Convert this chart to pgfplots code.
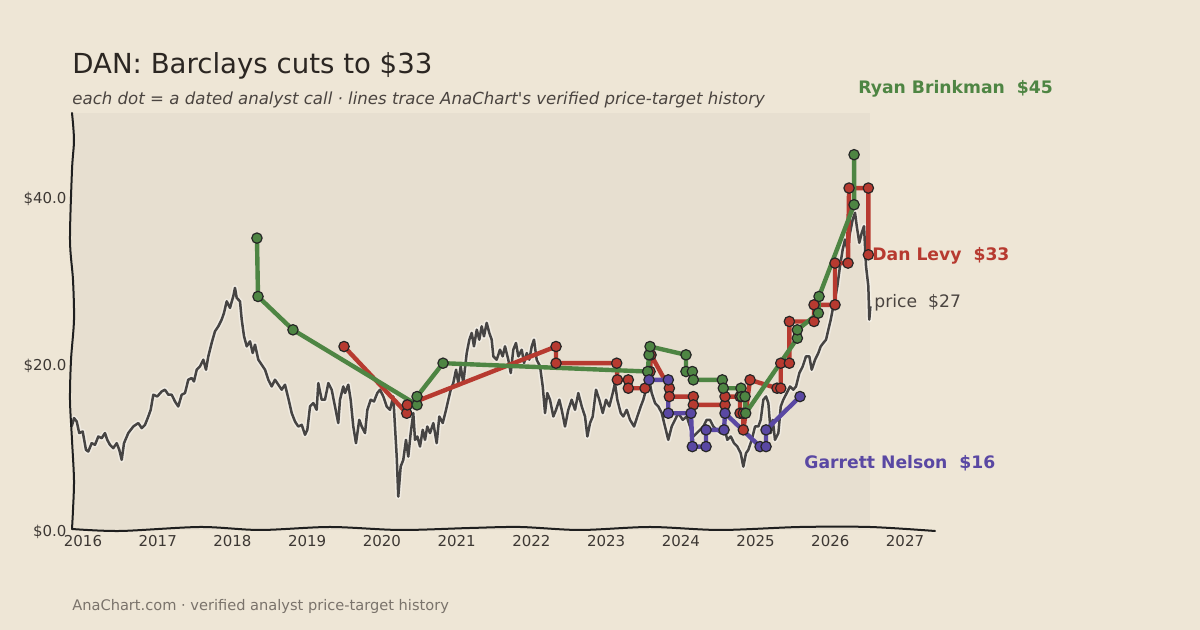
\documentclass[border=0pt]{standalone}
\usepackage{fontspec}
\setmainfont{DejaVu Sans}
\newfontfamily\plainfont{DejaVu Sans}
\usepackage{pgfplots}
\usepackage{pgfplotstable}
\pgfplotsset{compat=1.18}
\definecolor{bg}{HTML}{EEE6D6}
\definecolor{panel}{HTML}{E7DFD0}
\definecolor{pricec}{HTML}{464443}
\definecolor{greenc}{HTML}{4E8543}
\definecolor{redc}{HTML}{B73A30}
\definecolor{purplec}{HTML}{5A48A3}
\definecolor{txt}{HTML}{2B2622}
\definecolor{sub}{HTML}{4A4440}
\definecolor{foot}{HTML}{7A736B}
\definecolor{tick}{HTML}{3D3834}

\pgfplotstableread{
x y
2015.849 12.41
2015.880 13.42
2015.916 13.01
2015.950 11.62
2015.996 11.81
2016.040 9.61
2016.071 9.41
2016.116 10.41
2016.161 10.21
2016.205 11.21
2016.250 11.01
2016.294 11.62
2016.325 10.81
2016.361 10.21
2016.405 9.81
2016.451 10.41
2016.486 9.61
2016.518 8.41
2016.549 10.41
2016.606 11.62
2016.673 12.41
2016.740 12.82
2016.786 12.22
2016.830 12.61
2016.874 13.61
2016.906 14.41
2016.941 16.22
2016.994 16.01
2017.053 16.61
2017.097 16.82
2017.142 16.22
2017.187 16.22
2017.231 15.41
2017.275 14.81
2017.321 16.22
2017.365 16.42
2017.409 18.02
2017.455 18.22
2017.485 17.81
2017.522 19.22
2017.566 19.62
2017.610 20.42
2017.646 19.22
2017.677 20.82
2017.722 22.43
2017.766 23.82
2017.811 24.42
2017.856 25.23
2017.887 26.03
2017.923 27.42
2017.967 26.63
2018.011 28.02
2018.034 29.03
2018.057 27.83
2018.101 27.42
2018.124 25.23
2018.155 23.22
2018.191 22.02
2018.235 22.62
2018.271 21.22
2018.302 22.22
2018.346 20.42
2018.391 19.82
2018.436 19.22
2018.480 18.02
2018.525 17.21
2018.569 18.02
2018.614 17.42
2018.659 16.82
2018.703 17.42
2018.747 15.82
2018.793 14.02
2018.837 13.01
2018.881 12.41
2018.927 12.61
2018.971 11.41
2019.002 12.01
2019.038 14.81
2019.082 15.22
2019.127 14.41
2019.149 17.62
2019.194 15.62
2019.238 15.62
2019.283 17.62
2019.328 16.82
2019.372 14.81
2019.416 12.82
2019.439 15.62
2019.483 17.21
2019.506 16.42
2019.550 17.42
2019.582 15.62
2019.617 12.41
2019.653 10.41
2019.697 13.21
2019.730 12.41
2019.774 11.62
2019.805 14.41
2019.850 15.62
2019.894 15.41
2019.938 16.42
2019.974 16.82
2020.019 16.01
2020.064 14.81
2020.108 14.41
2020.152 16.01
2020.175 12.41
2020.198 8.80
2020.219 4.00
2020.251 7.60
2020.286 8.41
2020.322 10.81
2020.353 8.80
2020.385 11.62
2020.420 14.02
2020.443 10.81
2020.474 11.21
2020.510 10.01
2020.546 12.01
2020.577 10.81
2020.607 12.41
2020.644 11.62
2020.688 12.82
2020.733 10.41
2020.768 13.61
2020.814 12.82
2020.858 14.41
2020.889 15.62
2020.921 16.82
2020.955 17.62
2020.992 19.22
2021.022 17.62
2021.054 19.62
2021.089 17.62
2021.135 21.22
2021.170 22.82
2021.202 23.63
2021.232 22.02
2021.269 24.02
2021.303 22.82
2021.335 24.42
2021.366 23.22
2021.402 24.83
2021.437 23.63
2021.469 22.82
2021.491 20.82
2021.536 20.42
2021.580 21.62
2021.616 20.82
2021.647 22.02
2021.691 20.42
2021.724 18.82
2021.758 21.62
2021.794 22.43
2021.825 20.82
2021.871 21.62
2021.902 20.02
2021.938 21.22
2021.972 20.42
2022.005 22.02
2022.035 22.82
2022.071 20.42
2022.116 19.62
2022.152 17.21
2022.183 14.02
2022.213 16.42
2022.249 15.62
2022.294 13.61
2022.330 14.41
2022.374 15.62
2022.406 14.41
2022.450 12.41
2022.494 14.41
2022.540 15.62
2022.584 14.41
2022.628 16.42
2022.674 14.81
2022.718 13.61
2022.749 11.21
2022.785 12.82
2022.821 13.61
2022.865 16.82
2022.909 15.62
2022.955 14.02
2022.999 15.62
2023.043 14.81
2023.089 16.42
2023.119 17.62
2023.150 15.62
2023.196 14.02
2023.230 13.61
2023.276 14.41
2023.320 13.21
2023.374 12.41
2023.418 13.61
2023.463 14.81
2023.498 15.62
2023.534 16.82
2023.578 18.02
2023.610 16.42
2023.655 15.22
2023.699 14.81
2023.744 14.02
2023.788 12.41
2023.832 10.81
2023.878 12.41
2023.922 13.21
2023.966 14.02
2024.025 13.21
2024.079 13.61
2024.123 12.41
2024.167 11.21
2024.213 11.62
2024.257 12.01
2024.301 12.41
2024.346 13.21
2024.390 13.21
2024.435 12.41
2024.480 12.01
2024.534 11.62
2024.578 12.41
2024.622 10.81
2024.668 11.21
2024.712 10.41
2024.756 10.01
2024.801 9.21
2024.836 7.60
2024.872 9.21
2024.903 9.61
2024.949 10.81
2024.993 12.41
2025.037 12.41
2025.069 13.21
2025.104 15.62
2025.140 16.01
2025.171 15.22
2025.203 11.62
2025.230 13.21
2025.260 10.81
2025.305 11.62
2025.337 14.81
2025.371 15.62
2025.417 16.42
2025.461 17.21
2025.505 16.82
2025.541 17.21
2025.586 18.82
2025.631 19.62
2025.675 20.82
2025.719 20.82
2025.751 19.22
2025.796 20.42
2025.840 21.22
2025.872 22.02
2025.907 22.43
2025.943 22.82
2025.974 24.02
2026.006 25.23
2026.032 26.43
2026.063 27.63
2026.094 29.23
2026.130 31.63
2026.166 33.63
2026.197 34.83
2026.228 33.63
2026.264 35.64
2026.300 37.24
2026.331 38.04
2026.354 36.43
2026.388 34.44
2026.421 35.64
2026.451 36.43
2026.478 31.63
2026.509 29.23
2026.522 25.23
2026.536 26.82
}\pricetable

\pgfplotstableread{
x y
2019.493 22
2020.332 14
2020.340 15
2022.330 22
2022.330 20
2023.142 20
2023.150 18
2023.297 18
2023.297 17
2023.521 17
2023.588 19
2023.601 21
2023.846 17
2023.846 16
2024.167 16
2024.167 15
2024.591 15
2024.591 16
2024.792 16
2024.792 14
2024.836 14
2024.836 12
2024.926 18
2025.287 17
2025.337 17
2025.337 20
2025.452 20
2025.452 25
2025.782 25
2025.782 27
2026.063 27
2026.063 32
2026.237 32
2026.251 41
2026.509 41
2026.509 33
}\redtable

\pgfplotstableread{
x y
2018.328 35
2018.342 28
2018.810 24
2020.470 15
2020.470 16
2020.818 20
2023.557 19
2023.574 21
2023.588 22
2024.069 21
2024.069 19
2024.154 19
2024.167 18
2024.555 18
2024.568 17
2024.805 17
2024.815 16
2024.859 16
2024.868 14
2025.559 23
2025.559 24
2025.840 26
2025.849 28
2026.318 39
2026.318 45
}\greentable

\pgfplotstableread{
x y
2023.574 18
2023.832 18
2023.832 14
2024.136 14
2024.154 10
2024.337 10
2024.337 12
2024.578 12
2024.591 14
2025.060 10
2025.140 10
2025.140 12
2025.595 16
}\purpletable

\begin{document}
\begin{tikzpicture}[x=1pt,y=1pt]
\fill[bg] (0,0) rectangle (600,315);
\fill[panel] (36,50) rectangle (435,258.5);
\begin{axis}[
  at={(36pt,50pt)}, anchor=south west,
  scale only axis, width=431.5pt, height=208.5pt,
  xmin=2015.853, xmax=2027.401, ymin=0, ymax=50,
  axis x line*=bottom, axis y line*=left,
  axis line style={draw=none},
  major tick length=0pt,
  xtick={2016,2017,2018,2019,2020,2021,2022,2023,2024,2025,2026,2027},
  xticklabels={2016,2017,2018,2019,2020,2021,2022,2023,2024,2025,2026,2027},
  ytick={0,20,40},
  yticklabels={\$0.0,\$20.0,\$40.0},
  ticklabel style={font=\fontsize{7.5}{9}\selectfont, text=tick},
  xticklabel style={yshift=0.8pt},
  yticklabel style={xshift=0.8pt, yshift=-1.2pt},
  /pgf/number format/assume math mode=true,
  clip=false,
]
\addplot[draw=white, opacity=0.4, line width=2.8pt, line join=round] table[x=x,y=y] {\pricetable};
\addplot[draw=pricec, line width=1.25pt, line join=round] table[x=x,y=y] {\pricetable};
\addplot[draw=redc, line width=2.2pt, line join=round, mark=*, mark size=2.6pt,
  mark options={fill=redc, draw=black!85, line width=0.6pt, solid}] table[x=x,y=y] {\redtable};
\addplot[draw=greenc, line width=2.2pt, line join=round, mark=*, mark size=2.6pt,
  mark options={fill=greenc, draw=black!85, line width=0.6pt, solid}] table[x=x,y=y] {\greentable};
\addplot[draw=purplec, line width=2.2pt, line join=round, mark=*, mark size=2.6pt,
  mark options={fill=purplec, draw=black!85, line width=0.6pt, solid}] table[x=x,y=y] {\purpletable};
\end{axis}
% hand-drawn style spines
\draw[black!88, line width=1pt, line cap=round] plot[smooth] coordinates {(36,258.5) (37,245) (36,230) (35,195) (36.5,175) (37,155) (35.5,135) (35,115) (36,95) (37,75) (36.5,60) (36,50.5)};
\draw[black!88, line width=1pt, line cap=round] plot[smooth] coordinates {(36,50.5) (60,49.5) (100,51.5) (130,50) (165,51.5) (200,50) (235,51) (260,51.5) (290,50) (325,51.5) (360,50) (400,51.5) (435,51.5) (467.5,49.5)};
% texts
\node[anchor=base west, inner sep=0, font=\fontsize{13.8}{16}\selectfont, text=txt] at (36,278) {DAN: Barclays cuts to \$33};
\node[anchor=base west, inner sep=0, font=\plainfont\fontsize{8.3}{10}\selectfont\itshape, text=sub] at (36,262.5) {each dot = a dated analyst call · lines trace AnaChart's verified price-target history};
\node[anchor=base west, inner sep=0, font=\bfseries\fontsize{8.6}{10}\selectfont, text=greenc] at (429,268) {Ryan Brinkman\ \ \$45};
\node[anchor=base west, inner sep=0, font=\bfseries\fontsize{8.6}{10}\selectfont, text=redc] at (436,184.5) {Dan Levy\ \ \$33};
\node[anchor=base west, inner sep=0, font=\fontsize{8.6}{10}\selectfont, text=sub] at (437,161) {price\ \ \$27};
\node[anchor=base west, inner sep=0, font=\bfseries\fontsize{8.6}{10}\selectfont, text=purplec] at (402,80.5) {Garrett Nelson\ \ \$16};
\node[anchor=base west, inner sep=0, font=\fontsize{7.3}{9}\selectfont, text=foot] at (36,9.5) {AnaChart.com · verified analyst price-target history};
\pgfresetboundingbox
\useasboundingbox (0,0) rectangle (600,315);
\end{tikzpicture}
\end{document}
